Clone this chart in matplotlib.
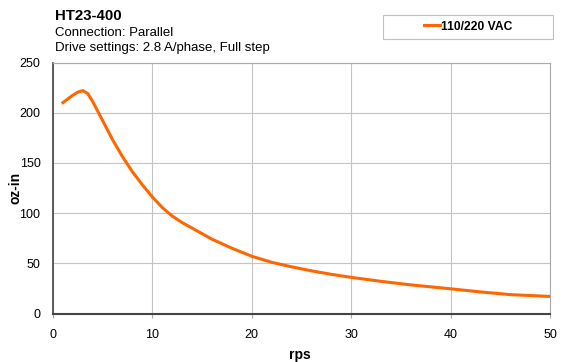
import matplotlib.pyplot as plt
from matplotlib.patches import Rectangle

rps = [1, 2, 2.5, 3, 3.5, 4, 5, 6, 7, 8, 9, 10, 11, 12, 13, 14, 15, 16, 17, 18, 19, 20,
       22, 24, 26, 28, 30, 33, 36, 40, 43, 46, 50]
torque = [210, 217.5, 220.5, 222, 219, 211, 192, 173, 156, 141, 128, 116, 105.5, 97, 90.5, 85, 79.5, 74,
          69.5, 65, 61, 57, 51, 46.5, 42.5, 39, 36, 32, 28.5, 24.6, 21.5, 18.8, 17]
series_name = '110/220 VAC'
title = 'HT23-400'
subtitle = ['Connection: Parallel', 'Drive settings: 2.8 A/phase, Full step']

plt.rcParams['font.family'] = ['Liberation Sans', 'DejaVu Sans']

W, H = 572, 362
fig = plt.figure(figsize=(W / 100, H / 100), dpi=100)
ax = fig.add_axes([53 / W, 1 - 313.5 / H, 497 / W, 251 / H])

ax.plot(rps, torque, color='#ff6600', linewidth=2.2, label=series_name, solid_joinstyle='round')

ax.set_xlim(0, 50)
ax.set_ylim(0, 250)
ax.set_xticks(range(0, 51, 10))
ax.set_yticks(range(0, 251, 50))
ax.grid(True, color='#c4c4c4', linewidth=0.8)
ax.set_axisbelow(True)
ax.tick_params(axis='x', labelsize=9, length=3, color='#aaaaaa', pad=8)
ax.tick_params(axis='y', labelsize=9, length=0, pad=9)

ax.spines['left'].set_color('#444444')
ax.spines['left'].set_linewidth(1.2)
ax.spines['bottom'].set_color('#444444')
ax.spines['bottom'].set_linewidth(1.5)
ax.spines['top'].set_color('#aaaaaa')
ax.spines['right'].set_color('#aaaaaa')

# 坐标轴名称，直接放在图上的位置
fig.text(300 / W, 1 - 355 / H, 'rps', fontsize=10, fontweight='bold', ha='center', va='center')
fig.text(16 / W, 1 - 188 / H, 'oz-in', fontsize=10, fontweight='bold', ha='center', va='center', rotation=90)

fig.text(55 / W, 1 - 16.5 / H, title, fontsize=10.8, fontweight='bold', va='center')
fig.text(55 / W, 1 - 33 / H, subtitle[0], fontsize=9.5, va='center')
fig.text(55 / W, 1 - 48.5 / H, subtitle[1], fontsize=9.5, va='center')

# 图例框
fig.patches.append(Rectangle((383 / W, 1 - 38.5 / H), 170 / W, 23.5 / H, transform=fig.transFigure,
                             facecolor='white', edgecolor='#c0c0c0', linewidth=0.8))
fig.legend(loc='center', bbox_to_anchor=(468 / W, 1 - 26.5 / H), frameon=False,
           prop={'weight': 'bold', 'size': 8.7}, handlelength=1.3, handletextpad=0.1,
           borderpad=0, borderaxespad=0)

fig.savefig('out.png', dpi=100)
